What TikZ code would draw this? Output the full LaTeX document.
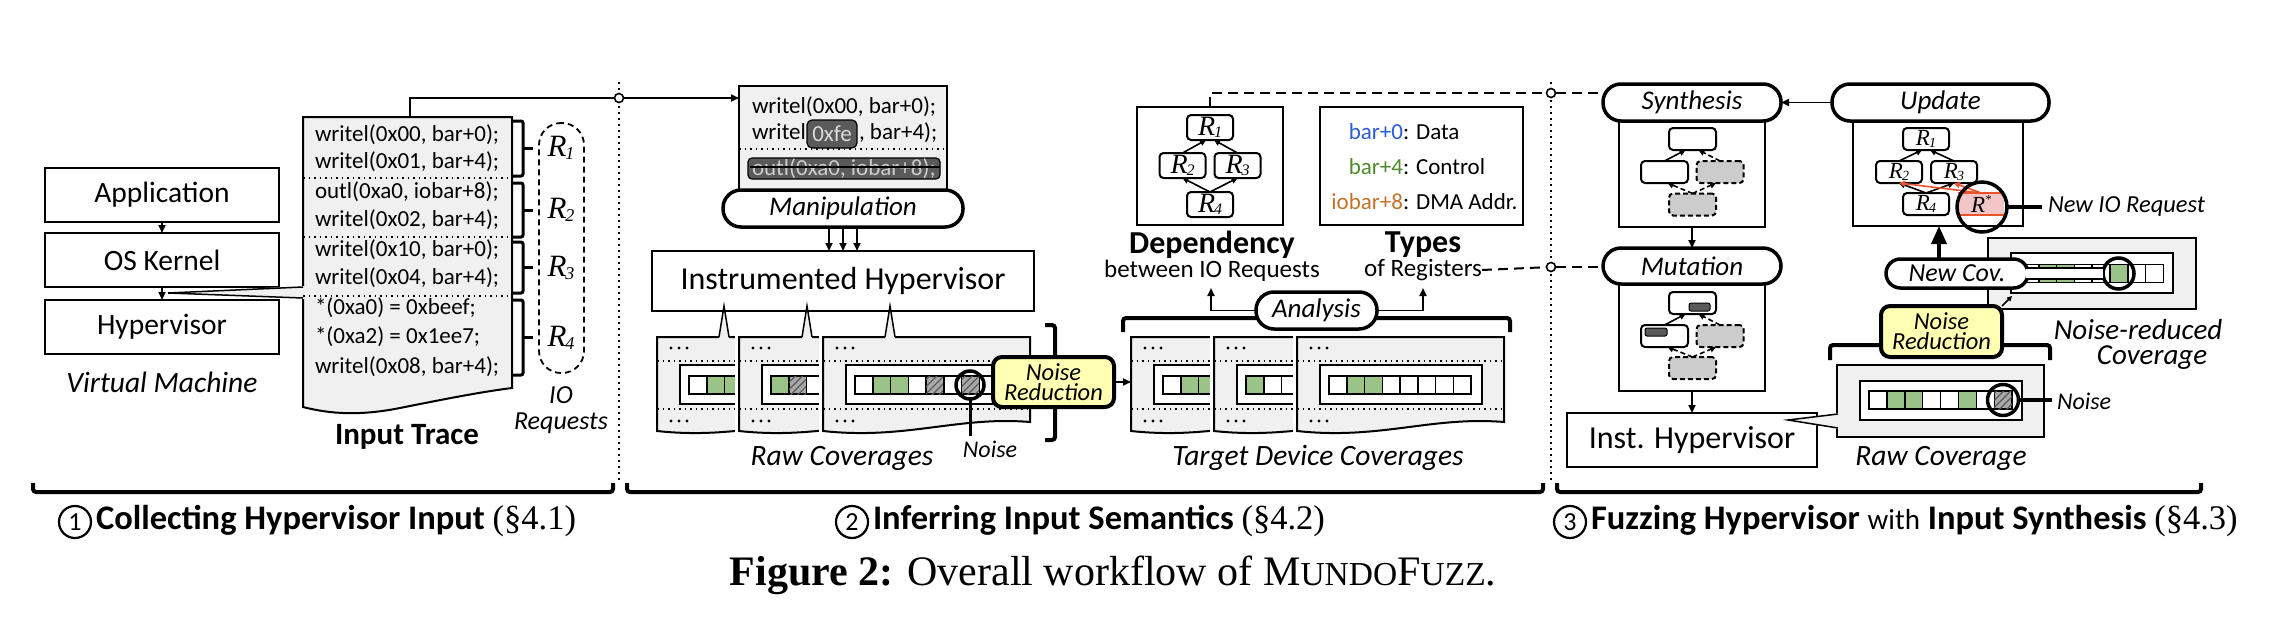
\documentclass[tikz,border=0pt]{standalone}
\usepackage{fontspec}
\setmainfont{Carlito}
\newfontfamily\serif{Liberation Serif}
\usetikzlibrary{arrows.meta,patterns.meta,calc}
\definecolor{docg}{HTML}{F0F0F0}
\definecolor{cgreen}{HTML}{9BC388}
\definecolor{hatchg}{HTML}{A8A8A8}
\definecolor{nyel}{HTML}{FFFFB3}
\definecolor{ngray}{HTML}{CCCCCC}
\definecolor{dgray}{HTML}{5A5A5A}
\definecolor{cblue}{HTML}{2C5BD6}
\definecolor{cgreentxt}{HTML}{4E8A2E}
\definecolor{corange}{HTML}{C0742A}
\definecolor{rstar}{HTML}{F2C6C6}
\definecolor{rorange}{HTML}{E8532A}
\newcommand{\fs}[1]{\fontsize{#1}{#1}\selectfont}
\newcommand{\Rs}[2]{{\serif\itshape R\kern-0.04em\raisebox{-0.08em}{\fontsize{#2}{#2}\selectfont #1}}}
\newcommand{\Rstar}{{\serif\itshape R\raisebox{0.42em}{\fontsize{12}{12}\selectfont *}}}
\newcommand{\docshape}[2]{(#1,337) -- (#2,337) -- (#2,422) .. controls ({#2-0.35*(#2-#1)},416) and ({#1+0.4*(#2-#1)},440) .. (#1,431) -- cycle}
\newcommand{\cellrow}[4]{%
  \foreach \cc [count=\ii from 0] in {#4} {%
    \pgfmathsetmacro\cxa{#1+\ii*#3}%
    \pgfmathsetmacro\cxb{#1+(\ii+1)*#3}%
    \draw[line width=1.5pt, \cc] (\cxa,#2) rectangle (\cxb,#2+18);
  }}
\newcommand{\covdoc}[2]{%
  \pgfmathsetmacro\cvL{#1}%
  \pgfmathsetmacro\cvR{#1+207}%
  \draw[white, line width=8pt] \docshape{\cvL}{\cvR};
  \filldraw[fill=docg, line width=2pt] \docshape{\cvL}{\cvR};
  \draw[line width=1.5pt, dash pattern=on 1.5pt off 4pt] (\cvL,361) -- (\cvR,361) (\cvL,409) -- (\cvR,409);
  \foreach \dx in {14,22,30} {\fill (\cvL+\dx,348) circle (1.7pt); \fill (\cvL+\dx,421) circle (1.7pt);}
  \draw[line width=2pt, fill=white] (\cvL+23,365) rectangle (\cvR-22,404);
  \cellrow{\cvL+32}{376}{17.75}{#2}
}
\begin{document}
\begin{tikzpicture}[x=1pt,y=-1pt,
  every node/.style={inner sep=0pt, outer sep=0pt},
  box/.style={draw, line width=2pt, fill=white},
  capsule/.style={draw, line width=3.5pt, rounded corners=18pt, fill=white, font=\itshape\fs{27}},
  arr/.style={-{Triangle[length=8pt,width=7pt]}, line width=1.8pt},
  garr/.style={-{Triangle[length=6pt,width=6pt]}, line width=1.6pt},
  gnode/.style={draw, line width=2pt, rounded corners=4pt, fill=white, minimum width=46pt, minimum height=23pt},
  gdash/.style={draw, line width=2pt, rounded corners=4pt, fill=ngray, dash pattern=on 5pt off 3pt, minimum width=46pt, minimum height=23pt},
  dots/.style={line width=1.8pt, dash pattern=on 1.8pt off 4.2pt},
  sepdots/.style={line width=1.5pt, dash pattern=on 1.5pt off 4pt},
  dsh/.style={line width=2pt, dash pattern=on 10pt off 6pt},
  cellW/.style={fill=white}, cellG/.style={fill=cgreen},
  cellH/.style={fill=hatchg, postaction={pattern={Lines[angle=45,distance=5pt,line width=1.2pt]}, pattern color=black!65}},
  circ/.style={circle, draw, line width=3.5pt, minimum size=30pt},
  yel/.style={draw, line width=4pt, rounded corners=9pt, fill=nyel, align=center, font=\itshape\fontsize{24.5}{20}\selectfont},
  brk/.style={line width=4pt, rounded corners=3pt},
  hub/.style={circle, draw, line width=1.6pt, fill=white, minimum size=9pt},
  code/.style={anchor=west, font=\fs{23}},
]
\useasboundingbox (0,0) rectangle (2290,634);

% separators
\draw[dots] (619,82) -- (619,480);
\draw[dots] (1551,82) -- (1551,480);

% ================= Part 1 =================
\node[box,minimum width=234pt,minimum height=54pt,font=\fs{29.5}] (app) at (162,195) {Application};
\node[box,minimum width=234pt,minimum height=54pt,font=\fs{29.5}] (os) at (162,260) {OS Kernel};
\node[box,minimum width=234pt,minimum height=54pt,font=\fs{29.5}] (hyp) at (162,327) {Hypervisor};
\draw[arr] (app) -- (os);
\draw[arr] (os) -- (hyp);
\node[font=\itshape\fs{29.5}] (vm) at (162,382) {Virtual Machine};

\fill[docg] (303,117) -- (512,117) -- (512,388) .. controls (480,392) and (440,400) .. (400,408) .. controls (360,416) and (330,414) .. (303,407) -- cycle;
\draw[line width=2pt] (303,287) -- (303,117) -- (512,117) -- (512,388) .. controls (480,392) and (440,400) .. (400,408) .. controls (360,416) and (330,414) .. (303,407) -- (303,298);
\coordinate (ctip) at (168,293);
\fill[docg] (304,286) -- (ctip) -- (304,299) -- cycle;
\draw[line width=1.5pt] (303,287) -- (ctip) -- (303,298);
\foreach \y in {178,237,296} \draw[sepdots] (303,\y) -- (512,\y);
\node[code] (l1) at (315,135) {writel(0x00, bar+0);};
\node[code] (l2) at (315,162) {writel(0x01, bar+4);};
\node[code] (l3) at (315,192) {outl(0xa0, iobar+8);};
\node[code] (l4) at (315,220) {writel(0x02, bar+4);};
\node[code] (l5) at (315,250) {writel(0x10, bar+0);};
\node[code] (l6) at (315,278) {writel(0x04, bar+4);};
\node[code] (l7) at (315,308) {*(0xa0) = 0xbeef;};
\node[code] (l8) at (315,337) {*(0xa2) = 0x1ee7;};
\node[code] (l9) at (315,367) {writel(0x08, bar+4);};
\node[font=\bfseries\fs{31}] (ittxt) at (407,437) {Input Trace};

\foreach \t/\b in {121/176,183/237,242/293,300/375} {
  \draw[line width=3pt, rounded corners=2pt] (512,\t) -- (523,\t) -- (523,\b) -- (512,\b);
  \draw[line width=3pt] (523,{(\t+\b)/2}) -- (533,{(\t+\b)/2});
}
\node[draw, line width=1.8pt, dash pattern=on 6pt off 4pt, rounded corners=22pt, minimum width=45pt, minimum height=250pt] (ioreq) at (561.5,248) {};
\node[font=\fs{31}] (rr1) at (561,148) {\Rs{1}{18}};
\node[font=\fs{31}] (rr2) at (561,210) {\Rs{2}{18}};
\node[font=\fs{31}] (rr3) at (561,268) {\Rs{3}{18}};
\node[font=\fs{31}] (rr4) at (561,338) {\Rs{4}{18}};
\node[font=\itshape\fs{26}, align=center] (iotxt) at (561,410) {IO\\Requests};

% ================= Part 2 =================
\node[draw, line width=2pt, fill=docg, minimum width=208pt, minimum height=112pt] (mdoc) at (843,142) {};
\coordinate (trtop) at (410,117);
\node[hub] (c1) at (619,98) {};
\draw[line width=1.8pt] (trtop) |- (c1);
\draw[arr] (c1) -- (c1 -| mdoc.west);
\node[code] (m1) at (752,107) {writel(0x00, bar+0);};
\node[code] (m2a) at (752,133) {writel(};
\node[code] (m2b) at (859,133) {, bar+4);};
\node[draw, line width=1.2pt, fill=dgray, rounded corners=5pt, minimum width=50pt, minimum height=28pt, text=white!85!black, font=\fs{23}] (fe) at (832,134) {0xfe};
\draw[sepdots] (739,149) -- (947,149);
\node[anchor=base west, font=\fs{23}] (o1) at (752,175) {outl(0xa0, iobar+8);};
\node[draw, line width=1.2pt, fill=dgray, rounded corners=4pt, minimum width=192pt, minimum height=21pt] (strk) at (844,168.5) {};
\begin{scope}
  \clip (748,158) rectangle (940,179);
  \node[anchor=base west, font=\fs{23}, text=white!80!black] (o2) at (752,175) {outl(0xa0, iobar+8);};
\end{scope}
\draw[line width=2pt] (750,167) -- (940,167);
\node[capsule, minimum width=240pt, minimum height=37pt] (manip) at (843,208.5) {Manipulation};
\node[box, minimum width=382pt, minimum height=60pt, font=\fs{32}] (ih) at (843,281) {Instrumented Hypervisor};
\foreach \dx in {-14,0,14} \draw[arr] ([xshift=\dx pt]manip.south) -- ([xshift=\dx pt]ih.north);

% raw coverages
\covdoc{657}{cellW,cellG,cellG,cellW,cellW,cellW,cellW,cellW}
\covdoc{739}{cellG,cellH,cellW,cellW,cellW,cellW,cellW,cellW}
\covdoc{823}{cellW,cellG,cellG,cellW,cellH,cellW,cellH,cellW}
\foreach \sx in {724,807,890} {
  \fill[docg] (\sx-5,339) -- (\sx,306) -- (\sx+5,339) -- cycle;
  \draw[line width=1.5pt] (\sx-5,337) -- (\sx,306) -- (\sx+5,337);
}
\node[circ, minimum size=28pt] (noise1) at (970,385) {};
\coordinate (noise1end) at (970,436);
\draw[line width=3pt] (noise1.south) -- (noise1end);
\node[font=\itshape\fs{24}] (noise1t) at (990,449) {Noise};
\node[font=\itshape\fs{29.5}] (rawtxt) at (842,458) {Raw Coverages};
\draw[brk] (1045,325) -- (1055,325) -- (1055,440) -- (1045,440);
\node[yel, minimum width=121pt, minimum height=50pt] (nr1) at (1053.5,382) {Noise\\Reduction};

% target device coverages
\covdoc{1131}{cellW,cellG,cellG,cellW,cellW,cellW,cellW,cellW}
\covdoc{1214}{cellG,cellW,cellW,cellW,cellW,cellW,cellW,cellW}
\covdoc{1297}{cellW,cellG,cellG,cellW,cellW,cellW,cellW,cellW}
\coordinate (tdin) at (1131,382);
\draw[arr] (nr1.east) -- (tdin);
\node[font=\itshape\fs{29.5}] (tdtxt) at (1318,458) {Target Device Coverages};
\draw[brk] (1123,332) -- (1123,318) -- (1510,318) -- (1510,332);
\node[capsule, minimum width=121pt, minimum height=37pt] (ana) at (1316.5,310.5) {Analysis};
\coordinate (depin) at (1211,288);
\coordinate (typin) at (1423,288);
\draw[arr] (ana.west) -| (depin);
\draw[arr] (ana.east) -| (typin);

\node[box, minimum width=146pt, minimum height=118pt] (depbox) at (1210,166) {};
\node[gnode, minimum height=25pt, font=\fs{28}] (r1) at (1210,127.5) {\Rs{1}{16}};
\node[gnode, minimum height=25pt, font=\fs{28}] (r2) at (1182.5,165.5) {\Rs{2}{16}};
\node[gnode, minimum height=25pt, font=\fs{28}] (r3) at (1237.5,165.5) {\Rs{3}{16}};
\node[gnode, minimum height=25pt, font=\fs{28}] (r4) at (1210,204.5) {\Rs{4}{16}};
\draw[garr] (r2.north) -- ([xshift=-4pt]r1.south);
\draw[garr] (r3.north) -- ([xshift=4pt]r1.south);
\draw[garr] (r4.north) -- (r2.south);
\draw[garr] (r4.north) -- (r3.south);
\node[font=\bfseries\fs{32}] (deptxt) at (1212,245) {Dependency};
\node[font=\fs{25}] (deptxt2) at (1212,271) {between IO Requests};

\node[box, minimum width=203pt, minimum height=118pt] (typbox) at (1421.5,166) {};
\node[anchor=base east, font=\fs{23}, text=cblue] (t1a) at (1403,139) {bar+0};
\node[anchor=base west, font=\fs{23}] (t1b) at (1403,139) {: Data};
\node[anchor=base east, font=\fs{23}, text=cgreentxt] (t2a) at (1403,174) {bar+4};
\node[anchor=base west, font=\fs{23}] (t2b) at (1403,174) {: Control};
\node[anchor=base east, font=\fs{23}, text=corange] (t3a) at (1403,209) {iobar+8};
\node[anchor=base west, font=\fs{23}] (t3b) at (1403,209) {: DMA Addr.};
\node[font=\bfseries\fs{32}] (typtxt) at (1423,245) {Types};
\node[font=\fs{25}] (typtxt2) at (1423,270) {of Registers};

% ================= Part 3 =================
\node[box, minimum width=146pt, minimum height=106pt] (synbox) at (1692,174) {};
\node[capsule, minimum width=178pt, minimum height=37pt] (synth) at (1692,102.5) {Synthesis};
\node[gnode, minimum width=47pt, minimum height=22pt] (s1) at (1692.5,139) {};
\node[gnode, minimum width=47pt, minimum height=22pt] (s2) at (1664.5,172) {};
\node[gdash, minimum width=47pt, minimum height=22pt] (s3) at (1720,172) {};
\node[gdash, minimum width=47pt, minimum height=22pt] (s4) at (1692.5,204.5) {};
\draw[garr] (s2.north) -- ([xshift=-7pt]s1.south);
\draw[garr, dash pattern=on 5pt off 3pt] (s3.north) -- ([xshift=6pt]s1.south);
\draw[garr, dash pattern=on 5pt off 3pt] (s4.north) -- ([xshift=3pt]s2.south);
\draw[garr, dash pattern=on 5pt off 3pt] (s4.north) -- ([xshift=-4pt]s3.south);

\node[box, minimum width=146pt, minimum height=107pt] (mutbox) at (1692,337.5) {};
\node[capsule, minimum width=178pt, minimum height=36pt] (mut) at (1692,266) {Mutation};
\draw[arr] (synbox.south) -- (mut.north);
\node[gnode, minimum width=47pt, minimum height=22pt] (mm1) at (1692.5,303) {};
\node[gnode, minimum width=47pt, minimum height=22pt] (mm2) at (1664.5,336) {};
\node[gdash, minimum width=47pt, minimum height=22pt] (mm3) at (1720,336) {};
\node[gdash, minimum width=47pt, minimum height=22pt] (mm4) at (1692.5,368) {};
\node[draw, line width=1pt, fill=dgray, rounded corners=2pt, minimum width=21pt, minimum height=8pt] (mk1) at (1699.5,307) {};
\node[draw, line width=1pt, fill=dgray, rounded corners=2pt, minimum width=22pt, minimum height=8pt] (mk2) at (1656,332) {};
\draw[garr] (mm2.north) -- ([xshift=-7pt]mm1.south);
\draw[garr, dash pattern=on 5pt off 3pt] (mm3.north) -- ([xshift=6pt]mm1.south);
\draw[garr, dash pattern=on 5pt off 3pt] (mm4.north) -- ([xshift=3pt]mm2.south);
\draw[garr, dash pattern=on 5pt off 3pt] (mm4.north) -- ([xshift=-4pt]mm3.south);

\node[box, minimum width=250pt, minimum height=54pt, font=\fs{32}] (ih2) at (1692,440) {Inst. Hypervisor};
\draw[arr] (mutbox.south) -- (ih2.north);

% dashed links from part 2
\node[hub] (c2) at (1551,93) {};
\node[hub] (c3) at (1551,267) {};
\draw[dsh] (depbox.north) |- (c2);
\draw[dsh] (c2) -- (c2 -| synth.west);
\draw[dsh] (typtxt2.east) -- (c3);
\draw[dsh] (c3) -- (c3 -| mut.west);

% update
\node[box, minimum width=170pt, minimum height=105pt] (updbox) at (1938,173.5) {};
\node[capsule, minimum width=217pt, minimum height=37pt] (upd) at (1940.5,102.5) {Update};
\draw[arr] (upd.west) -- (synth.east);
\node[gnode, minimum height=22pt, font=\fs{23}] (u1) at (1926,139) {\Rs{1}{14}};
\node[gnode, minimum height=22pt, font=\fs{23}] (u2) at (1899,172) {\Rs{2}{14}};
\node[gnode, minimum height=22pt, font=\fs{23}] (u3) at (1954,172) {\Rs{3}{14}};
\node[gnode, minimum height=22pt, font=\fs{23}] (u4) at (1926,204) {\Rs{4}{14}};
\node[fill=rstar, minimum width=46pt, minimum height=22pt, font=\fs{23}] (us) at (1981,204) {\Rstar};
\draw[rorange, line width=2pt] (us.north west) -- (us.north east);
\draw[rorange, line width=2pt] (us.south west) -- (us.south east);
\draw[garr] (u2.north) -- ([xshift=-4pt]u1.south);
\draw[garr] (u3.north) -- ([xshift=4pt]u1.south);
\draw[garr] (u4.north) -- (u2.south);
\draw[garr] (u4.north) -- (u3.south);
\draw[garr, rorange] (us.north) -- (u2.south);
\draw[garr, rorange] (us.north) -- (u3.south);
\node[circ, minimum size=50pt] (nioc) at (1982,207) {};
\coordinate (niocend) at (2042,207);
\draw[line width=3.5pt] (nioc.east) -- (niocend);
\node[anchor=west, font=\itshape\fs{24.5}] (niotxt) at (2048,207) {New IO Request};

% noise-reduced coverage
\node[draw, line width=2pt, fill=docg, minimum width=208pt, minimum height=71pt] (nrdoc) at (2092,273.5) {};
\draw[line width=2pt, fill=white] (2011,253) rectangle (2173,293);
\cellrow{2021}{264.5}{17.8}{cellW,cellG,cellG,cellW,cellW,cellG,cellW,cellW}
\node[circ, minimum size=31pt] (ncirc) at (2118.5,273.5) {};
\node[capsule, rounded corners=14.5pt, minimum width=142pt, minimum height=29pt, font=\itshape\fs{26}] (newcov) at (1957,273.5) {New Cov.};
\draw[line width=13pt] ([xshift=-2pt]newcov.east) -- (ncirc.west);
\draw[white, line width=8.5pt] ([xshift=-2pt]newcov.east) -- (ncirc.west);
\draw[line width=3.5pt, -{Triangle[length=18pt,width=15pt]}] ([xshift=-18pt]newcov.north) -- ([xshift=-18pt]newcov.north |- updbox.south);
\node[font=\itshape\fs{29}] (nrt1) at (2138,330) {Noise-reduced};
\node[font=\itshape\fs{29}] (nrt2) at (2152,358) {Coverage};

% raw coverage (right)
\node[draw, line width=2pt, fill=docg, minimum width=207pt, minimum height=72pt] (rdoc) at (1940.5,401) {};
\draw[line width=2pt, fill=white] (1860,381) rectangle (2022,420);
\cellrow{1869}{391}{17.9}{cellW,cellG,cellG,cellW,cellW,cellG,cellW,cellH}
\node[circ, minimum size=31pt] (noise2) at (2003,400) {};
\coordinate (noise2end) at (2052,400);
\draw[line width=3.5pt] (noise2.east) -- (noise2end);
\node[anchor=west, font=\itshape\fs{24}] (noise2t) at (2057,401) {Noise};
\coordinate (ih2tip) at (1788,420);
\fill[docg] (1839,413) -- (ih2tip) -- (1839,429) -- cycle;
\draw[line width=1.5pt] (1838,414) -- (ih2tip) -- (1838,428);
\node[font=\itshape\fs{29.5}] (rawtxt2) at (1941,458) {Raw Coverage};
\draw[brk] (1830,360) -- (1830,345) -- (2050,345) -- (2050,360);
\node[yel, minimum width=121pt, minimum height=51pt] (nr2) at (1941.5,331.5) {Noise\\Reduction};
\draw[-{Triangle[length=5pt,width=5pt]}, line width=1.5pt] (nr2.north east) -- ++(10,-10);

% ================= bottom labels =================
\draw[brk] (33,483) -- (33,492) -- (613,492) -- (613,483);
\draw[brk] (627,483) -- (627,492) -- (1543,492) -- (1543,483);
\draw[brk] (1557,483) -- (1557,492) -- (2201,492) -- (2201,483);
\node[circle, draw, line width=2.2pt, minimum size=32pt, font=\fs{26}] (n1) at (75,522) {1};
\node[anchor=west, font=\fs{34.5}] (lab1) at (96,521) {\textbf{Collecting Hypervisor Input} {\serif(§4.1)}};
\node[circle, draw, line width=2.2pt, minimum size=32pt, font=\fs{26}] (n2) at (852,522) {2};
\node[anchor=west, font=\fs{34.5}] (lab2) at (873,521) {\textbf{Inferring Input Semantics} {\serif(§4.2)}};
\node[circle, draw, line width=2.2pt, minimum size=32pt, font=\fs{26}] (n3) at (1570,522) {3};
\node[anchor=west, font=\fs{34.5}] (lab3) at (1591,521) {\textbf{Fuzzing Hypervisor} {\fs{29}with} \textbf{Input Synthesis} {\serif(§4.3)}};
\node[font=\serif\fs{42}] (cap) at (1113,575) {\textbf{Figure 2:} Overall workflow of M{\fs{33.5}UNDO}F{\fs{33.5}UZZ}.};
\end{tikzpicture}
\end{document}
